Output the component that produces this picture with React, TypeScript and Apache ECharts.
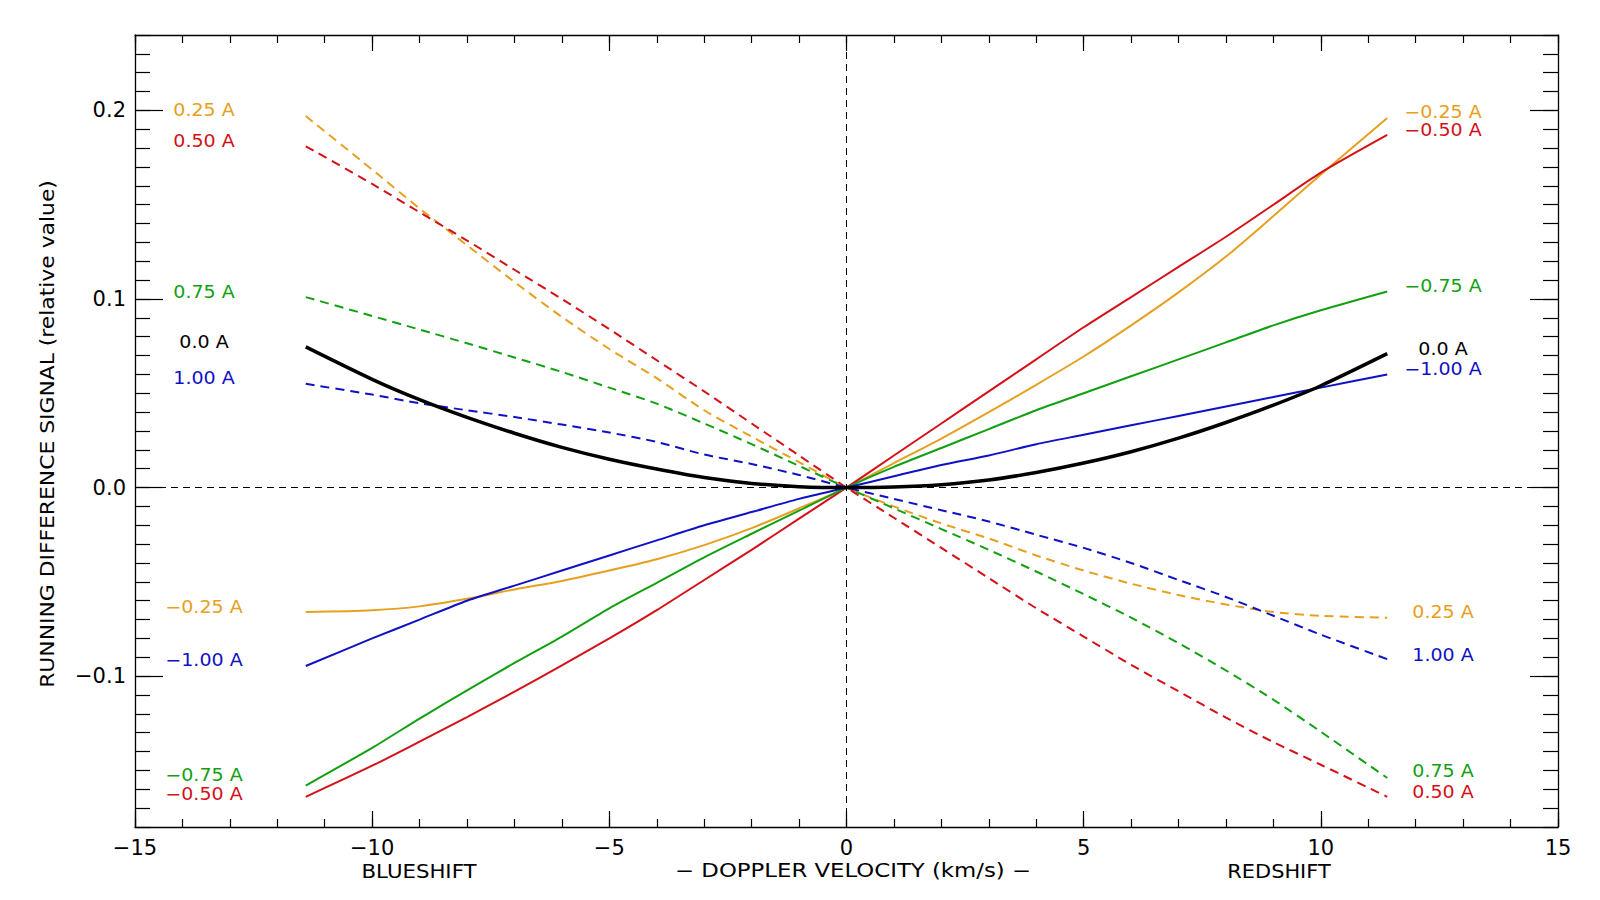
import React, { useEffect, useRef } from "react";
import * as echarts from "echarts";

// Doppler velocity samples (km/s)
const velocity = [-11.4, -10, -9, -8, -7, -6, -5, -4, -3, -2, -1, 0, 1, 2, 3, 4, 5, 6, 7, 8, 9, 10, 11.4];

// Running difference signal (relative value) per wavelength offset
const sig00 = [0.0746, 0.0574, 0.0466, 0.0372, 0.0288, 0.0213, 0.015, 0.0098, 0.0053, 0.0022, 0.0005, 0, 0.0003, 0.0015, 0.004, 0.008, 0.013, 0.019, 0.0262, 0.0345, 0.0437, 0.054, 0.071];
const sigM025 = [-0.066, -0.065, -0.063, -0.059, -0.054, -0.0495, -0.044, -0.038, -0.0305, -0.0215, -0.011, 0, 0.013, 0.026, 0.040, 0.0545, 0.0695, 0.086, 0.1035, 0.1225, 0.144, 0.166, 0.196];
const sigP025 = [0.197, 0.1686, 0.148, 0.1285, 0.109, 0.0905, 0.0735, 0.058, 0.041, 0.027, 0.0135, 0, -0.010, -0.019, -0.027, -0.036, -0.044, -0.051, -0.057, -0.062, -0.066, -0.068, -0.069];
const sigM050 = [-0.164, -0.1475, -0.1347, -0.1217, -0.1082, -0.0943, -0.080, -0.065, -0.049, -0.033, -0.0165, 0, 0.017, 0.034, 0.051, 0.068, 0.085, 0.101, 0.117, 0.133, 0.150, 0.167, 0.187];
const sigP050 = [0.181, 0.161, 0.146, 0.131, 0.1155, 0.100, 0.084, 0.0675, 0.051, 0.034, 0.017, 0, -0.016, -0.032, -0.048, -0.064, -0.079, -0.094, -0.108, -0.122, -0.135, -0.147, -0.164];
const sigM075 = [-0.158, -0.138, -0.1225, -0.1075, -0.093, -0.079, -0.064, -0.0505, -0.037, -0.0245, -0.0122, 0, 0.011, 0.021, 0.031, 0.041, 0.050, 0.059, 0.068, 0.077, 0.086, 0.094, 0.104];
const sigP075 = [0.101, 0.091, 0.0838, 0.0765, 0.069, 0.0613, 0.053, 0.0445, 0.034, 0.023, 0.0115, 0, -0.011, -0.022, -0.033, -0.0445, -0.0565, -0.069, -0.0825, -0.097, -0.1125, -0.1295, -0.154];
const sigM100 = [-0.0946, -0.080, -0.070, -0.060, -0.052, -0.044, -0.036, -0.028, -0.020, -0.013, -0.006, 0, 0.006, 0.012, 0.017, 0.023, 0.028, 0.033, 0.038, 0.043, 0.048, 0.053, 0.060];
const sigP100 = [0.055, 0.0493, 0.0447, 0.041, 0.0374, 0.0334, 0.0292, 0.0242, 0.0175, 0.0125, 0.0067, 0, -0.006, -0.012, -0.018, -0.025, -0.032, -0.040, -0.049, -0.058, -0.068, -0.078, -0.091];

const yMajorTicks = [-0.1, 0, 0.1, 0.2];

const ORANGE = "#E6A020";
const RED = "#D41018";
const GREEN = "#12A012";
const BLUE = "#1010C4";
const BLACK = "#000000";

const FONT = "DejaVu Sans";

// label columns: [text, colour, y pixel]
const leftLabels: [string, string, number][] = [
  ["0.25 A", ORANGE, 110],
  ["0.50 A", RED, 141],
  ["0.75 A", GREEN, 292],
  ["0.0 A", BLACK, 342],
  ["1.00 A", BLUE, 378],
  ["\u22120.25 A", ORANGE, 607],
  ["\u22121.00 A", BLUE, 660],
  ["\u22120.75 A", GREEN, 775],
  ["\u22120.50 A", RED, 794],
];
const rightLabels: [string, string, number][] = [
  ["\u22120.25 A", ORANGE, 112],
  ["\u22120.50 A", RED, 130],
  ["\u22120.75 A", GREEN, 286],
  ["0.0 A", BLACK, 349],
  ["\u22121.00 A", BLUE, 369],
  ["0.25 A", ORANGE, 612],
  ["1.00 A", BLUE, 655],
  ["0.75 A", GREEN, 771],
  ["0.50 A", RED, 792],
];

const minus = (s: string) => s.replace("-", "\u2212");

function pairs(ys: number[]) {
  return velocity.map((v, i) => [v, ys[i]]);
}

export default function App() {
  const ref = useRef<HTMLDivElement>(null);
  useEffect(() => {
    if (!ref.current) return;
    const chart = echarts.init(ref.current, undefined, { renderer: "svg" });

    const lineSeries = (name: string, ys: number[], color: string, dashed: boolean, width = 2) => ({
      name,
      type: "line",
      data: pairs(ys),
      showSymbol: false,
      symbol: "none",
      smooth: 0.25,
      lineStyle: { color, width, type: dashed ? [9, 6] : "solid" },
      silent: true,
      z: 3,
    });

    const baseX = {
      type: "value",
      min: -15,
      max: 15,
      splitLine: { show: false },
    };
    const baseY = {
      type: "value",
      min: -0.18,
      max: 0.24,
      splitLine: { show: false },
    };
    const axisLine = { show: true, onZero: false, lineStyle: { color: BLACK, width: 1.3 } };
    const noLine = { show: false, onZero: false };
    const tickStyle = { color: BLACK, width: 1.2 };

    const textEl = (text: string, x: number, y: number, color: string, size: number, scaleX: number, rotation = 0) => ({
      type: "text",
      x,
      y,
      rotation,
      scaleX,
      silent: true,
      style: { text, fill: color, font: `${size}px "${FONT}"`, align: "center", verticalAlign: "middle" },
    });

    const option: any = {
      animation: false,
      backgroundColor: "#ffffff",
      grid: { left: 135, right: 42, top: 35, bottom: 73, containLabel: false },
      xAxis: [
        {
          ...baseX,
          interval: 5,
          position: "bottom",
          axisLine,
          axisTick: { show: true, inside: true, length: 16, lineStyle: tickStyle },
          axisLabel: {
            show: true,
            margin: 10,
            fontSize: 21,
            fontFamily: FONT,
            color: BLACK,
            formatter: (v: number) => minus(String(v)),
          },
        },
        {
          ...baseX,
          interval: 1,
          position: "bottom",
          axisLine: noLine,
          axisTick: { show: true, inside: true, length: 8, lineStyle: tickStyle },
          axisLabel: { show: false },
        },
        {
          ...baseX,
          interval: 5,
          position: "top",
          axisLine,
          axisTick: { show: true, inside: true, length: 16, lineStyle: tickStyle },
          axisLabel: { show: false },
        },
        {
          ...baseX,
          interval: 1,
          position: "top",
          axisLine: noLine,
          axisTick: { show: true, inside: true, length: 8, lineStyle: tickStyle },
          axisLabel: { show: false },
        },
      ],
      yAxis: [
        {
          ...baseY,
          interval: 0.01,
          position: "left",
          axisLine,
          axisTick: { show: true, inside: true, length: 28, customValues: yMajorTicks, lineStyle: tickStyle },
          axisLabel: {
            show: true,
            margin: 9,
            fontSize: 21,
            fontFamily: FONT,
            color: BLACK,
            customValues: yMajorTicks,
            formatter: (v: number) => minus(v.toFixed(1)),
          },
        },
        {
          ...baseY,
          interval: 0.01,
          position: "left",
          axisLine: noLine,
          axisTick: { show: true, inside: true, length: 15, lineStyle: tickStyle },
          axisLabel: { show: false },
        },
        {
          ...baseY,
          interval: 0.01,
          position: "right",
          axisLine,
          axisTick: { show: true, inside: true, length: 28, customValues: yMajorTicks, lineStyle: tickStyle },
          axisLabel: { show: false },
        },
        {
          ...baseY,
          interval: 0.01,
          position: "right",
          axisLine: noLine,
          axisTick: { show: true, inside: true, length: 15, lineStyle: tickStyle },
          axisLabel: { show: false },
        },
      ],
      series: [
        {
          ...lineSeries("0.0 A", sig00, BLACK, false, 3.5),
          z: 4,
          markLine: {
            silent: true,
            symbol: ["none", "none"],
            label: { show: false },
            lineStyle: { color: BLACK, width: 1, type: [7, 5] },
            data: [{ yAxis: 0 }, { xAxis: 0 }],
            z: 2,
          },
        },
        lineSeries("-0.25 A", sigM025, ORANGE, false),
        lineSeries("0.25 A", sigP025, ORANGE, true),
        lineSeries("-0.50 A", sigM050, RED, false),
        lineSeries("0.50 A", sigP050, RED, true),
        lineSeries("-0.75 A", sigM075, GREEN, false),
        lineSeries("0.75 A", sigP075, GREEN, true),
        lineSeries("-1.00 A", sigM100, BLUE, false),
        lineSeries("1.00 A", sigP100, BLUE, true),
      ],
      graphic: [
        ...leftLabels.map(([t, c, y]) => textEl(t, 204, y, c, 17, 1.12)),
        ...rightLabels.map(([t, c, y]) => textEl(t, 1443, y, c, 17, 1.12)),
        textEl("RUNNING DIFFERENCE SIGNAL (relative value)", 48, 434, BLACK, 19, 1.15, Math.PI / 2),
        textEl("BLUESHIFT", 419, 871, BLACK, 19, 1.12),
        textEl("\u2212 DOPPLER VELOCITY (km/s) \u2212", 853, 871, BLACK, 19, 1.2),
        textEl("REDSHIFT", 1279, 871, BLACK, 19, 1.1),
      ],
    };

    chart.setOption(option);
    return () => chart.dispose();
  }, []);

  return (
    <div
      ref={ref}
      style={{ position: "fixed", left: 0, top: 0, width: 1600, height: 900, background: "#fff" }}
    />
  );
}
